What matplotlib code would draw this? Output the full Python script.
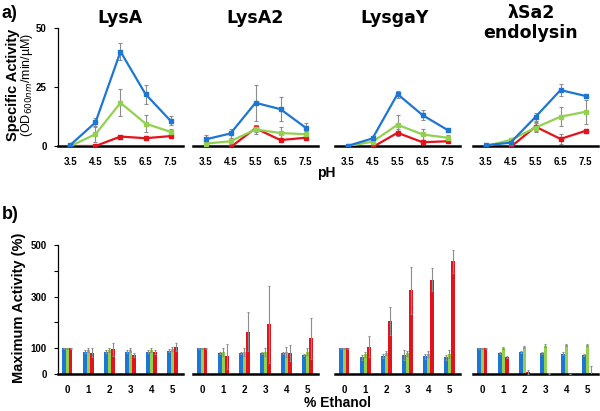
import numpy as np
import matplotlib
matplotlib.use("Agg")
import matplotlib.pyplot as plt

plt.rcParams['font.family'] = ['Liberation Sans', 'DejaVu Sans']

BLUE = '#1c76d2'
GREEN = '#92d050'
RED = '#e3121b'
ERR = '#8c8c8c'

# ---- panel a) specific activity vs pH ----
ph = [3.5, 4.5, 5.5, 6.5, 7.5]
names = ['LysA', 'LysA2', 'LysgaY', 'λSa2\nendolysin']

act_blue = [
    [0.5, 10, 40, 22, 10.7],
    [2.8, 5.3, 18.3, 15.6, 7.8],
    [0, 3.2, 22, 13.1, 6.8],
    [0.3, 1.4, 12.3, 23.7, 21.2],
]
act_blue_err = [
    [0.5, 2, 3.5, 4, 2],
    [2, 2, 7.5, 5, 2],
    [0.3, 1, 1.5, 2, 1],
    [0.3, 1.5, 1.5, 2.5, 1],
]
act_green = [
    [0, 5, 18.3, 9.5, 6],
    [1, 2, 7, 5.5, 5],
    [0, 1.8, 9, 4.9, 3.5],
    [0, 2.5, 7.8, 12.4, 14.5],
]
act_green_err = [
    [0.3, 3.5, 5.8, 3.5, 1],
    [1, 1, 2, 2.5, 1.5],
    [0.3, 1, 4, 2.5, 1],
    [0.3, 1, 2, 4, 5],
]
act_red = [
    [0, 0, 4, 3.3, 4.2],
    [-2, -0.5, 7.5, 2.5, 3.5],
    [-2, -0.5, 5.6, 1.6, 2.0],
    [-2, -0.5, 8.2, 3.0, 6.4],
]
act_red_err = [
    [0, 0, 0.8, 0.5, 0.8],
    [0, 0, 1.5, 1, 1],
    [0, 0, 1.5, 0.8, 0.6],
    [0, 0, 2, 2, 0.8],
]

# ---- panel b) maximum activity vs % ethanol ----
ethanol = [0, 1, 2, 3, 4, 5]
max_blue = [
    [100, 87, 87, 87, 87, 90],
    [100, 82, 82, 82, 82, 74],
    [100, 64, 70, 73, 68, 64],
    [100, 81, 85, 83, 79, 73],
]
max_blue_err = [
    [2, 5, 5, 5, 5, 5],
    [2, 5, 5, 5, 5, 5],
    [2, 10, 8, 20, 10, 10],
    [2, 5, 5, 4, 5, 5],
]
max_green = [
    [100, 94, 94, 92, 93, 96],
    [100, 84, 84, 84, 84, 87],
    [100, 77, 81, 81, 77, 78],
    [100, 100, 103, 110, 113, 113],
]
max_green_err = [
    [2, 8, 8, 8, 8, 8],
    [2, 15, 15, 15, 20, 15],
    [2, 10, 8, 10, 12, 15],
    [2, 4, 4, 5, 5, 5],
]
max_red = [
    [100, 83, 96, 72, 85, 104],
    [100, 68, 164, 192, 82, 138],
    [100, 106, 205, 324, 365, 437],
    [100, 65, 8, 1, 0, 2],
]
max_red_err = [
    [2, 18, 25, 8, 8, 15],
    [2, 50, 75, 150, 30, 80],
    [2, 40, 55, 90, 45, 45],
    [2, 4, 8, 1, 0, 28],
]

W, H = 600, 411
fig = plt.figure(figsize=(W / 100, H / 100), dpi=100)

lefts = [58, 193, 335, 473]
pw = 125


def ax_at(x0, ybot, ytop):
    return fig.add_axes([x0 / W, 1 - ybot / H, pw / W, (ybot - ytop) / H])


def style(ax, show_left):
    for s in ['top', 'right']:
        ax.spines[s].set_visible(False)
    ax.spines['bottom'].set_linewidth(1.8)
    ax.spines['bottom'].set_color('black')
    ax.tick_params(axis='x', length=0, labelsize=7, pad=8)
    if show_left:
        ax.spines['left'].set_linewidth(0.9)
        ax.tick_params(axis='y', length=3, width=0.8, labelsize=7, pad=5)
    else:
        ax.spines['left'].set_visible(False)
        ax.tick_params(axis='y', left=False, labelleft=False)
    for lab in ax.get_xticklabels() + ax.get_yticklabels():
        lab.set_fontweight('bold')
    ax.set_facecolor('none')


title_x = [120, 255, 395, 531]
title_y = [18, 18, 18, 23]
for i in range(4):
    ax = ax_at(lefts[i], 146, 28)
    for vals, err, c in [(act_red[i], act_red_err[i], RED),
                         (act_green[i], act_green_err[i], GREEN),
                         (act_blue[i], act_blue_err[i], BLUE)]:
        ax.errorbar(ph, vals, yerr=err, fmt='none', ecolor=ERR, elinewidth=0.8,
                    capsize=1.2, capthick=0.8, zorder=2)
        ax.plot(ph, vals, color=c, lw=1.6, marker='s', ms=2.8, zorder=3)
    ax.set_xlim(3.0, 8.0)
    ax.set_ylim(0, 50)
    ax.set_xticks(ph)
    ax.set_xticklabels([str(p) for p in ph])
    ax.set_yticks([0, 25, 50])
    style(ax, i == 0)
    fig.text(title_x[i] / W, 1 - title_y[i] / H, names[i],
             ha='center', va='center', fontsize=12.5, fontweight='bold',
             family='DejaVu Sans', linespacing=1.1)

x = np.array(ethanol)
bw = 0.16
for i in range(4):
    ax = ax_at(lefts[i], 374, 245)
    for off, vals, err, c in [(-bw, max_blue[i], max_blue_err[i], BLUE),
                              (0, max_green[i], max_green_err[i], GREEN),
                              (bw, max_red[i], max_red_err[i], RED)]:
        ax.bar(x + off, vals, width=bw, color=c, zorder=2)
        ax.errorbar(x + off, vals, yerr=err, fmt='none', ecolor=ERR,
                    elinewidth=0.8, capsize=1.0, capthick=0.8, zorder=3)
    ax.set_xlim(-0.45, 5.5)
    ax.set_ylim(0, 500)
    ax.set_xticks(ethanol)
    ax.set_xticklabels([str(e) for e in ethanol])
    ax.set_yticks([0, 100, 200, 300, 400, 500])
    ax.set_yticklabels(['0', '100', '', '300', '', '500'])
    style(ax, i == 0)

fig.text(2 / W, 1 - 13 / H, 'a)', fontsize=13, fontweight='bold', va='center')
fig.text(2 / W, 1 - 214 / H, 'b)', fontsize=13, fontweight='bold', va='center')
fig.text(13 / W, 1 - 85 / H, 'Specific Activity', rotation=90, ha='center',
         va='center', fontsize=10.5, fontweight='bold')
fig.text(27 / W, 1 - 85 / H, '(OD$_{600nm}$/min/µM)', rotation=90, ha='center',
         va='center', fontsize=9)
fig.text(19 / W, 1 - 308 / H, 'Maximum Activity (%)', rotation=90, ha='center',
         va='center', fontsize=10.5, fontweight='bold')
fig.text(326 / W, 1 - 173 / H, 'pH', ha='center', va='center', fontsize=10,
         fontweight='bold')
fig.text(337 / W, 1 - 403 / H, '% Ethanol', ha='center', va='center',
         fontsize=10, fontweight='bold')

fig.savefig('out.png', dpi=100)
